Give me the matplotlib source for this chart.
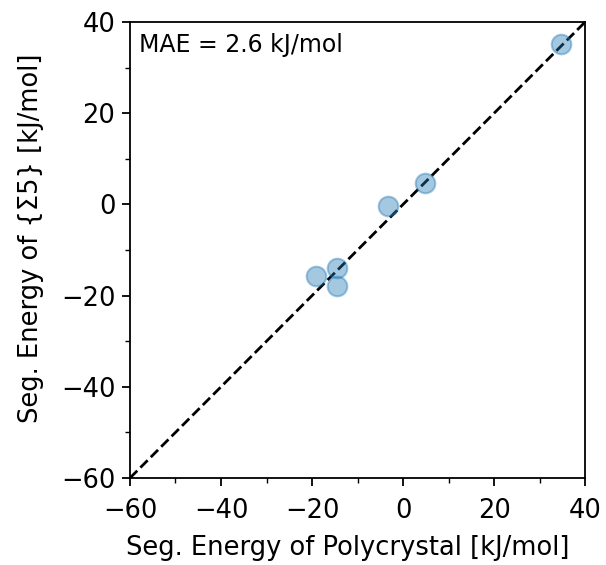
import matplotlib
matplotlib.use("Agg")
import matplotlib.pyplot as plt
from matplotlib.ticker import MultipleLocator

poly = [34.7, 4.8, -3.3, -14.5, -14.5, -19.1]
sigma5 = [35.2, 4.7, -0.3, -13.9, -17.9, -15.7]
lims = [-60, 40]
ticks = [-60, -40, -20, 0, 20, 40]

fig = plt.figure(figsize=(6.06, 5.65), dpi=100)
ax = fig.add_axes([0.2145, 0.154, 0.751, 0.807])
ax.plot(lims, lims, "k--", lw=2.0, zorder=1)
ax.scatter(poly, sigma5, s=200, color="tab:blue", alpha=0.4, edgecolor="tab:blue", linewidth=1.5, zorder=2)
ax.set_xlim(lims)
ax.set_ylim(lims)
ax.set_xticks(ticks)
ax.set_yticks(ticks)
ax.xaxis.set_minor_locator(MultipleLocator(10))
ax.yaxis.set_minor_locator(MultipleLocator(10))
for s in ax.spines.values():
    s.set_linewidth(1.3)
ax.tick_params(which="major", labelsize=18.5, length=6, width=1.3)
ax.tick_params(which="minor", length=3.5, width=1.0)
ax.tick_params(axis="x", which="major", pad=8.5)
ax.tick_params(axis="y", which="major", pad=4.5)
ax.set_xlabel("Seg. Energy of Polycrystal [kJ/mol]", fontsize=18.5, labelpad=8)
ax.set_ylabel("Seg. Energy of {Σ5} [kJ/mol]", fontsize=18.5, labelpad=12)
ax.xaxis.label.set_x(0.478)
ax.yaxis.label.set_y(0.526)
ax.text(0.02, 0.975, "MAE = 2.6 kJ/mol", transform=ax.transAxes, fontsize=17, va="top", ha="left")
fig.savefig("out.png", dpi=100)
